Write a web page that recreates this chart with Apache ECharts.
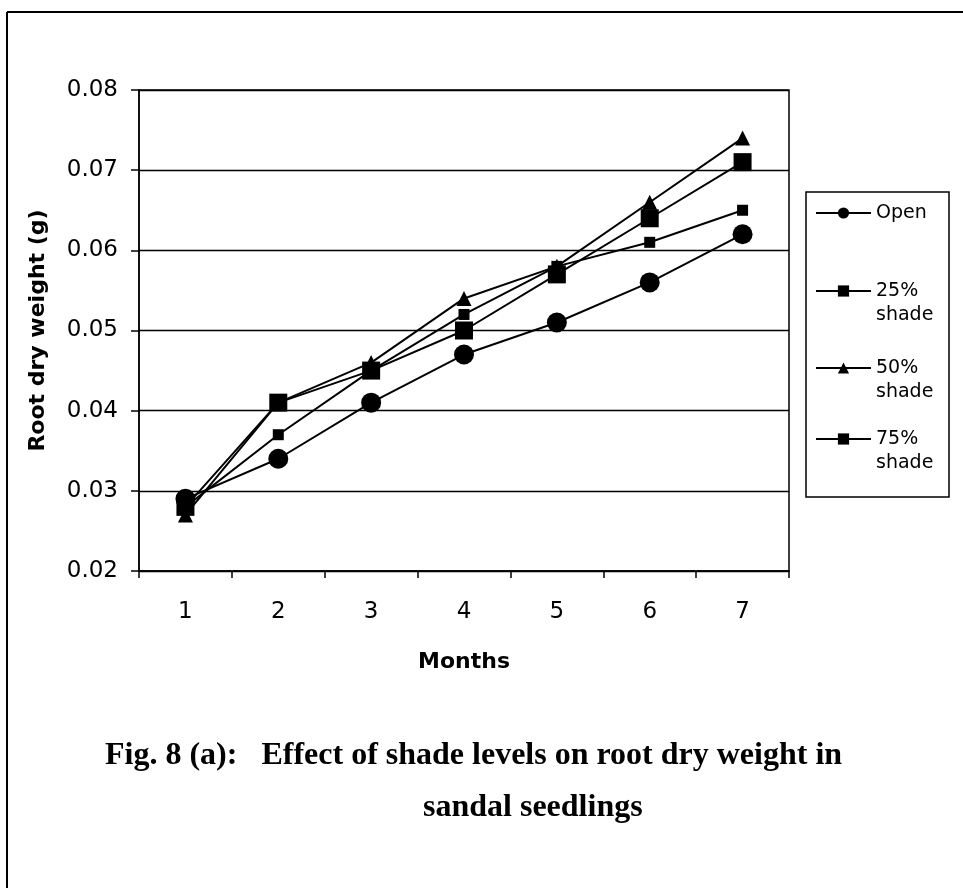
<!DOCTYPE html>
<html>
<head>
<meta charset="utf-8">
<script src="https://cdn.jsdelivr.net/npm/echarts@6/dist/echarts.min.js"></script>
<style>
  html, body { margin: 0; padding: 0; background: #fff; }
  #chart { width: 963px; height: 888px; }
</style>
</head>
<body>
<div id="chart"></div>
<script>
const months = ['1', '2', '3', '4', '5', '6', '7']
const yTicks = [0.02, 0.03, 0.04, 0.05, 0.06, 0.07, 0.08]

const openVals = [0.029, 0.034, 0.041, 0.047, 0.051, 0.056, 0.062]
const shade25 = [0.028, 0.037, 0.045, 0.052, 0.058, 0.061, 0.065]
const shade50 = [0.027, 0.041, 0.046, 0.054, 0.058, 0.066, 0.074]
const shade75 = [0.028, 0.041, 0.045, 0.050, 0.057, 0.064, 0.071]

const sans = 'DejaVu Sans'
const serif = 'Liberation Serif'

const chart = echarts.init(document.getElementById('chart'))

function lineSeries(name, data, symbol, size) {
  return {
    name,
    type: 'line',
    data,
    symbol,
    symbolSize: size,
    lineStyle: { color: '#000', width: 2 },
    itemStyle: { color: '#000' },
    emphasis: { disabled: true },
  }
}

// one legend per entry so each can sit where Excel put it
// two-line names get an empty first line so "25%" lines up with the icon
function legendFor(name, top, twoLines) {
  return {
    data: [name],
    orient: 'vertical',
    left: 815,
    top,
    padding: 0,
    itemWidth: 55,
    itemHeight: 14,
    formatter: (n) => (twoLines ? '\n' + n.replace(' ', '\n') : n),
    textStyle: {
      fontFamily: sans,
      fontSize: 19,
      lineHeight: 24,
      color: '#000',
    },
  }
}

chart.setOption({
  animation: false,
  title: [
    {
      text: 'Fig. 8 (a):   Effect of shade levels on root dry weight in',
      left: 105,
      top: 740,
      padding: 0,
      textStyle: { fontFamily: serif, fontWeight: 'bold', fontSize: 32, color: '#000' },
    },
    {
      text: 'sandal seedlings',
      left: 423,
      top: 792,
      padding: 0,
      textStyle: { fontFamily: serif, fontWeight: 'bold', fontSize: 32, color: '#000' },
    },
  ],
  legend: [
    legendFor('Open', 201, false),
    legendFor('25% shade', 255, true),
    legendFor('50% shade', 332, true),
    legendFor('75% shade', 403, true),
  ],
  grid: {
    left: 139,
    right: 174,
    top: 90,
    bottom: 317,
    show: true,
    borderColor: '#000',
    borderWidth: 1.5,
  },
  xAxis: {
    type: 'category',
    data: months,
    boundaryGap: true,
    name: 'Months',
    nameLocation: 'middle',
    nameGap: 80,
    nameTextStyle: { fontFamily: sans, fontWeight: 'bold', fontSize: 22, color: '#000' },
    axisLine: { onZero: false, lineStyle: { color: '#000', width: 1.5 } },
    axisTick: { show: true, length: 7, lineStyle: { color: '#000', width: 1.5 } },
    axisLabel: { fontFamily: sans, fontSize: 23, color: '#000', margin: 30 },
  },
  yAxis: {
    type: 'value',
    min: yTicks[0],
    max: yTicks[yTicks.length - 1],
    interval: 0.01,
    name: 'Root dry weight (g)',
    nameLocation: 'middle',
    nameGap: 90,
    nameTextStyle: { fontFamily: sans, fontWeight: 'bold', fontSize: 22, color: '#000' },
    axisLine: { show: true, lineStyle: { color: '#000', width: 1.5 } },
    axisTick: { show: true, length: 8, lineStyle: { color: '#000', width: 1.5 } },
    axisLabel: {
      fontFamily: sans,
      fontSize: 23,
      color: '#000',
      margin: 21,
      formatter: (v) => v.toFixed(2),
    },
    splitLine: { show: true, lineStyle: { color: '#000', width: 1.3 } },
  },
  series: [
    lineSeries('Open', openVals, 'circle', 20),
    lineSeries('25% shade', shade25, 'rect', 11),
    lineSeries('50% shade', shade50, 'triangle', 15),
    lineSeries('75% shade', shade75, 'rect', 18),
  ],
  graphic: [
    // page frame (top and left edges only, like the scan)
    { type: 'line', shape: { x1: 7, y1: 12, x2: 963, y2: 12 }, style: { stroke: '#000', lineWidth: 2 } },
    { type: 'line', shape: { x1: 7, y1: 12, x2: 7, y2: 888 }, style: { stroke: '#000', lineWidth: 2 } },
    // legend box
    {
      type: 'rect',
      shape: { x: 806, y: 192, width: 143, height: 305 },
      style: { fill: 'none', stroke: '#000', lineWidth: 1.5 },
      silent: true,
    },
  ],
})

window.addEventListener('resize', () => chart.resize())
</script>
</body>
</html>
